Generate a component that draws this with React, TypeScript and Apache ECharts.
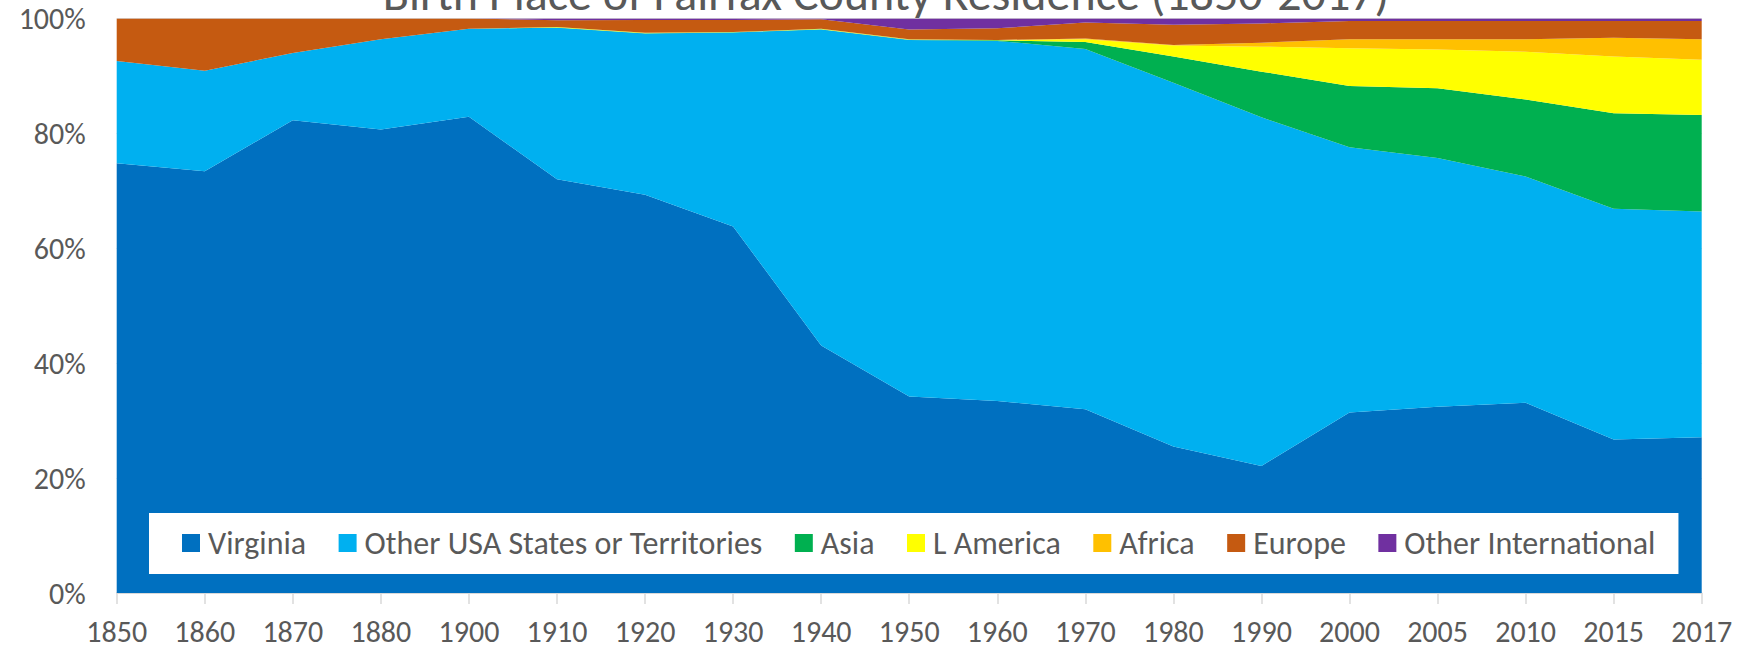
import React, { useEffect, useRef } from "react";
import * as echarts from "echarts";

const years = ["1850", "1860", "1870", "1880", "1900", "1910", "1920", "1930", "1940", "1950", "1960", "1970", "1980", "1990", "2000", "2005", "2010", "2015", "2017"];
const virginia = [74.8, 73.4, 82.3, 80.7, 82.9, 72.0, 69.3, 63.8, 43.1, 34.2, 33.4, 32.0, 25.5, 22.1, 31.4, 32.4, 33.1, 26.7, 27.1];
const otherUSA = [17.8, 17.5, 11.7, 15.7, 15.3, 26.4, 28.1, 33.75, 55.0, 62.05, 62.7, 62.7, 63.3, 60.7, 46.2, 43.3, 39.4, 40.2, 39.3];
const asia = [0, 0, 0, 0, 0, 0.05, 0.05, 0.05, 0.05, 0.05, 0.1, 1.2, 4.6, 7.95, 10.65, 12.15, 13.4, 16.6, 16.8];
const lAmerica = [0, 0, 0, 0, 0, 0.05, 0.05, 0.05, 0.05, 0.05, 0.05, 0.5, 1.9, 4.35, 6.55, 6.75, 8.3, 9.9, 9.6];
const africa = [0, 0, 0, 0, 0, 0, 0, 0, 0, 0.02, 0.02, 0.1, 0.1, 0.7, 1.6, 1.8, 2.2, 3.25, 3.6];
const europe = [7.4, 9.1, 6.0, 3.6, 1.8, 1.2, 2.25, 2.1, 1.65, 1.73, 2.03, 2.8, 3.5, 3.35, 3.15, 3.15, 3.15, 2.9, 3.15];
const otherIntl = [0, 0, 0, 0, 0, 0.3, 0.25, 0.25, 0.15, 1.9, 1.7, 0.7, 1.1, 0.85, 0.45, 0.45, 0.45, 0.45, 0.45];

const seriesNames = ["Virginia", "Other USA States or Territories", "Asia", "L America", "Africa", "Europe", "Other International"];
const seriesColors = ["#0070C0", "#00B0F0", "#00B050", "#FFFF00", "#FFC000", "#C55A11", "#7030A0"];
const seriesData = [virginia, otherUSA, asia, lAmerica, africa, europe, otherIntl];
const yTicks = [0, 20, 40, 60, 80, 100];
const titleText = "Birth Place of Fairfax County Residence (1850-2017)";

const FONT = "Carlito, Lato, sans-serif";

export default function App() {
  const ref = useRef<HTMLDivElement>(null);

  useEffect(() => {
    document.body.style.margin = "0";
    if (!ref.current) return;
    const axisSize = 30;
    const legendSize = 32;
    const titleSize = 48;
    const textColor = "#595959";

    const chart = echarts.init(ref.current, undefined, { renderer: "svg" });
    chart.setOption({
      animation: false,
      backgroundColor: "#ffffff",
      textStyle: { fontFamily: FONT },
      graphic: [
        {
          type: "text",
          x: 886,
          y: 10 - 0.34 * titleSize,
          z: 100,
          style: {
            text: titleText,
            fill: textColor,
            font: `${titleSize}px ${FONT}`,
            align: "center",
            verticalAlign: "middle",
          },
        },
      ],
      grid: {
        left: 116.7,
        right: 50.3,
        top: 18.5,
        bottom: 57,
        containLabel: false,
        outerBoundsMode: "none",
      },
      legend: {
        left: 149,
        top: 513,
        orient: "horizontal",
        backgroundColor: "#ffffff",
        padding: [14, 23, 15, 33],
        itemWidth: 18,
        itemHeight: 18,
        itemGap: 32.5,
        icon: "rect",
        data: seriesNames,
        textStyle: {
          color: textColor,
          fontSize: legendSize,
          fontFamily: FONT,
          lineHeight: 30,
          padding: [0, 0, 0, 3],
        },
      },
      xAxis: {
        type: "category",
        data: years,
        boundaryGap: false,
        axisLine: { show: true, lineStyle: { color: "#D9D9D9", width: 1.5 } },
        axisTick: { show: true, length: 11, lineStyle: { color: "#D9D9D9", width: 1.5 } },
        axisLabel: { color: textColor, fontSize: axisSize, fontFamily: FONT, margin: 24, lineHeight: 28 },
        splitLine: { show: false },
      },
      yAxis: {
        type: "value",
        min: yTicks[0],
        max: yTicks[yTicks.length - 1],
        interval: 20,
        axisLine: { show: false },
        axisTick: { show: false },
        splitLine: { show: true, lineStyle: { color: "#D9D9D9" } },
        axisLabel: { color: textColor, fontSize: axisSize, fontFamily: FONT, margin: 31, formatter: "{value}%" },
      },
      series: seriesNames.map((name, i) => ({
        name,
        type: "line",
        stack: "total",
        data: seriesData[i],
        symbol: "none",
        showSymbol: false,
        smooth: false,
        lineStyle: { width: 0, color: seriesColors[i] },
        itemStyle: { color: seriesColors[i] },
        areaStyle: { color: seriesColors[i], opacity: 1 },
        emphasis: { disabled: true },
      })),
    });
    return () => chart.dispose();
  }, []);

  return <div ref={ref} style={{ width: 1752, height: 650 }} />;
}
